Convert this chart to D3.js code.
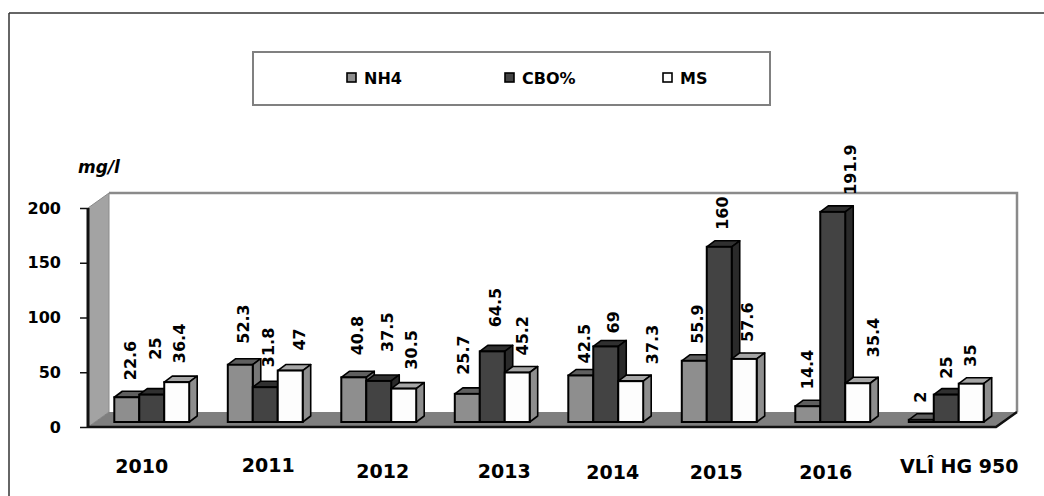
<!DOCTYPE html>
<html>
<head>
<meta charset="utf-8">
<script src="https://cdn.jsdelivr.net/npm/d3@7/dist/d3.min.js"></script>
<style>
  html, body { margin: 0; padding: 0; background: #fff; }
  svg { display: block; }
  text { font-family: "DejaVu Sans", sans-serif; font-weight: bold; fill: #000; }
</style>
</head>
<body>
<svg id="chart" width="1044" height="496"></svg>
<script>
// Categories and series values (mg/l)
const categories = ["2010", "2011", "2012", "2013", "2014", "2015", "2016", "VLÎ HG 950"];
const seriesNames = ["NH4", "CBO%", "MS"];
const nh4 = [22.6, 52.3, 40.8, 25.7, 42.5, 55.9, 14.4, 2];
const cbo = [25, 31.8, 37.5, 64.5, 69, 160, 191.9, 25];
const ms  = [36.4, 47, 30.5, 45.2, 37.3, 57.6, 35.4, 35];
const yTicks = [0, 50, 100, 150, 200];
const yTitle = "mg/l";

// Face shading per series: front, top, side
const faceColors = [
  { front: "#8e8e8e", top: "#5f5f5f", side: "#777777" },
  { front: "#434343", top: "#303030", side: "#2a2a2a" },
  { front: "#fdfdfd", top: "#a6a6a6", side: "#8e8e8e" }
];

// Hand-tuned label nudges [dx, dy] (layout only), indexed [series][category]
const valueLabelNudge = [
  [[0,0],[0,-4],[0,-5],[-7,-2],[0,5],[0,0],[-4,0],[-4,0]],
  [[0,-18],[0,-3],[5,-12],[0,-7],[4,4],[0,0],[14,0],[-3,1]],
  [[0,-2],[6,-3],[5,-2],[2,0],[19,0],[0,0],[13,-9],[-4,0]]
];
const categoryLabelNudge = [[-3,0],[10,-1],[11,5],[19,5],[14,6],[4,6],[0,6],[20,0]];

const series = [nh4, cbo, ms];

const svg = d3.select("#chart");

// Outer frame (top and left edges)
svg.append("line").attr("x1", 9).attr("y1", 13).attr("x2", 1044).attr("y2", 13)
  .attr("stroke", "#333").attr("stroke-width", 1.5);
svg.append("line").attr("x1", 9).attr("y1", 13).attr("x2", 9).attr("y2", 496)
  .attr("stroke", "#333").attr("stroke-width", 1.5);

// Plot geometry (front plane)
const x0 = 88, x1 = 996;
const depth = { dx: 21, dy: -15 };

const y = d3.scaleLinear().domain([0, 200]).range([427, 208]);
const xBand = d3.scaleBand().domain(categories).range([x0, x1]).paddingInner(0.34).paddingOuter(0.17);
const xSub = d3.scaleBand().domain(seriesNames).range([0, xBand.bandwidth()]);

// Bars sit a third of the way into the floor depth
const barShift = { dx: 7, dy: -5 };
const barDepth = { dx: 8, dy: -6 };

const yTop = y(200), yBase = y(0);

// Back wall
svg.append("rect")
  .attr("x", x0 + depth.dx).attr("y", yTop + depth.dy)
  .attr("width", x1 - x0).attr("height", yBase - yTop)
  .attr("fill", "#fff").attr("stroke", "none");
svg.append("path")
  .attr("d", `M${x0 + depth.dx},${yTop + depth.dy} L${x1 + depth.dx},${yTop + depth.dy} L${x1 + depth.dx},${yBase + depth.dy}`)
  .attr("fill", "none").attr("stroke", "#8a8a8a").attr("stroke-width", 2.5);

// Left side wall
svg.append("polygon")
  .attr("points", [
    [x0, yTop], [x0 + depth.dx, yTop + depth.dy],
    [x0 + depth.dx, yBase + depth.dy], [x0, yBase]
  ].map(p => p.join(",")).join(" "))
  .attr("fill", "#a3a3a3").attr("stroke", "#8a8a8a").attr("stroke-width", 1);

// Floor
svg.append("polygon")
  .attr("points", [
    [x0, yBase], [x0 + depth.dx, yBase + depth.dy],
    [x1 + depth.dx, yBase + depth.dy], [x1, yBase]
  ].map(p => p.join(",")).join(" "))
  .attr("fill", "#7f7f7f").attr("stroke", "none");
svg.append("path")
  .attr("d", `M${x0},${yBase} L${x1},${yBase} L${x1 + depth.dx},${yBase + depth.dy}`)
  .attr("fill", "none").attr("stroke", "#111").attr("stroke-width", 2.5);

// Front edge of the value axis
svg.append("line").attr("x1", x0).attr("y1", yTop).attr("x2", x0).attr("y2", yBase)
  .attr("stroke", "#111").attr("stroke-width", 3);

// Value axis ticks and labels
const yAxis = d3.axisLeft(y).tickValues(yTicks).tickSize(8).tickPadding(19).tickFormat(d3.format("d"));
const gY = svg.append("g").attr("transform", `translate(${x0},0)`).call(yAxis);
gY.select(".domain").remove();
gY.selectAll(".tick line").attr("stroke", "#111").attr("stroke-width", 1.5);
gY.selectAll(".tick text")
  .style("font-family", "'DejaVu Sans', sans-serif")
  .style("font-weight", "bold").style("font-size", "16px").attr("fill", "#000");

// Axis title
svg.append("text").attr("x", 78).attr("y", 173)
  .style("font-size", "17px").style("font-style", "italic")
  .text(yTitle);

// Bars, drawn left to right so each bar covers its neighbour's side face
const barsG = svg.append("g");
categories.forEach((cat, ci) => {
  seriesNames.forEach((name, si) => {
    const v = series[si][ci];
    const bx = xBand(cat) + xSub(name) + barShift.dx;
    const bw = xSub.bandwidth();
    const by = y(v) + barShift.dy;
    const bb = y(0) + barShift.dy;
    const c = faceColors[si];
    const g = barsG.append("g");
    // top face
    g.append("polygon")
      .attr("points", [[bx, by], [bx + barDepth.dx, by + barDepth.dy], [bx + bw + barDepth.dx, by + barDepth.dy], [bx + bw, by]]
        .map(p => p.join(",")).join(" "))
      .attr("fill", c.top).attr("stroke", "#000").attr("stroke-width", 1.6).attr("stroke-linejoin", "round");
    // side face
    g.append("polygon")
      .attr("points", [[bx + bw, by], [bx + bw + barDepth.dx, by + barDepth.dy], [bx + bw + barDepth.dx, bb + barDepth.dy], [bx + bw, bb]]
        .map(p => p.join(",")).join(" "))
      .attr("fill", c.side).attr("stroke", "#000").attr("stroke-width", 1.6).attr("stroke-linejoin", "round");
    // front face
    g.append("rect")
      .attr("x", bx).attr("y", by).attr("width", bw).attr("height", bb - by)
      .attr("fill", c.front).attr("stroke", "#000").attr("stroke-width", 2);
  });
});

// Value labels, rotated
const labelsG = svg.append("g");
categories.forEach((cat, ci) => {
  seriesNames.forEach((name, si) => {
    const v = series[si][ci];
    const nudge = valueLabelNudge[si][ci];
    const lx = xBand(cat) + xSub(name) + barShift.dx + xSub.bandwidth() / 2 + 3 + nudge[0];
    const ly = y(v) + barShift.dy - 17 + nudge[1];
    labelsG.append("text")
      .attr("transform", `translate(${lx},${ly}) rotate(-90)`)
      .attr("dy", "0.36em")
      .style("font-size", "16px")
      .text(String(v));
  });
});

// Category labels
categories.forEach((cat, ci) => {
  const n = categoryLabelNudge[ci];
  svg.append("text")
    .attr("x", xBand(cat) + xBand.bandwidth() / 2 + n[0])
    .attr("y", 473 + n[1])
    .attr("text-anchor", "middle")
    .style("font-size", "19px")
    .text(cat);
});

// Legend
const legend = svg.append("g");
legend.append("rect").attr("x", 253).attr("y", 52).attr("width", 517).attr("height", 53)
  .attr("fill", "#fff").attr("stroke", "#808080").attr("stroke-width", 2);
const legendX = d3.scalePoint().domain(seriesNames).range([347, 663]);
seriesNames.forEach((name, si) => {
  const lx = legendX(name);
  legend.append("rect").attr("x", lx).attr("y", 73).attr("width", 9).attr("height", 9)
    .attr("fill", faceColors[si].front).attr("stroke", "#000").attr("stroke-width", 1.6);
  legend.append("text").attr("x", lx + 17).attr("y", 84)
    .style("font-size", "16px").text(name);
});
</script>
</body>
</html>
